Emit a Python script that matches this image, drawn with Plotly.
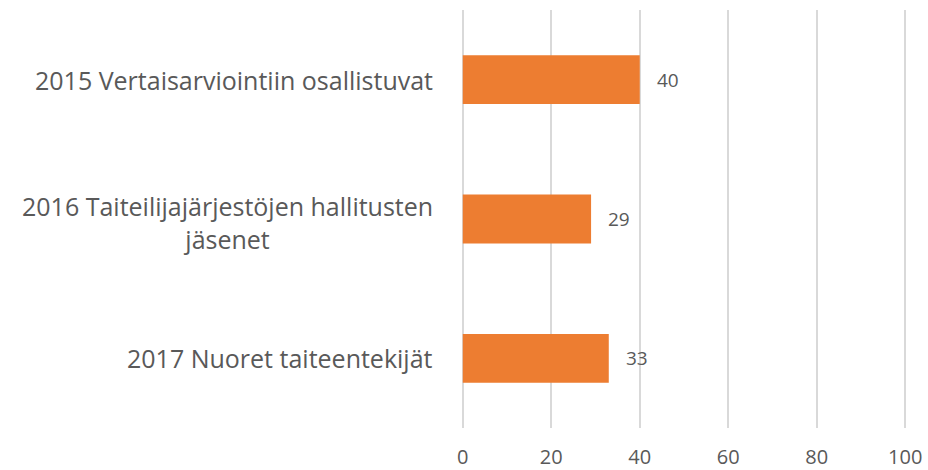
import plotly.graph_objects as go

categories = [
    "2015 Vertaisarviointiin osallistuvat",
    "2016 Taiteilijajärjestöjen hallitusten<br>jäsenet",
    "2017 Nuoret taiteentekijät",
]
values = [40, 29, 33]
x_ticks = [0, 20, 40, 60, 80, 100]

bar_color = "#ED7D31"
text_color = "#595959"
font_family = "Open Sans, Liberation Sans, sans-serif"

fig = go.Figure(
    go.Bar(
        x=values,
        y=categories,
        orientation="h",
        marker=dict(color=bar_color, line=dict(width=0)),
        hoverinfo="skip",
    )
)

# category labels: right-aligned block left of the axis, wrapped lines centred
for cat in categories:
    wrapped = "<br>" in cat
    fig.add_annotation(
        x=0, xref="paper", y=cat, yref="y",
        text=cat, showarrow=False,
        xanchor="right", yanchor="middle", align="center",
        xshift=-26, yshift=-3 if wrapped else 0,
        font=dict(family=font_family, size=25, color=text_color),
    )

# value labels just beyond each bar end
for cat, v in zip(categories, values):
    fig.add_annotation(
        x=v, y=cat, text=str(v), showarrow=False,
        xanchor="left", yanchor="middle", xshift=15,
        font=dict(family=font_family, size=19, color=text_color),
    )

fig.update_layout(
    width=928, height=470,
    margin=dict(l=461, r=21, t=10, b=42),
    paper_bgcolor="white", plot_bgcolor="white",
    bargap=0.65,
    showlegend=False,
    xaxis=dict(
        range=[-0.4, 100.4], tickvals=x_ticks,
        showgrid=True, gridcolor="#D9D9D9", gridwidth=1.5,
        zeroline=False, showline=False, automargin=False,
        ticks="outside", ticklen=11, tickcolor="rgba(0,0,0,0)",
        tickfont=dict(family=font_family, size=20, color=text_color),
        fixedrange=True,
    ),
    yaxis=dict(
        autorange="reversed", automargin=False,
        showticklabels=False, showgrid=False, zeroline=False, showline=False,
        fixedrange=True,
    ),
)

fig.write_html("out.html")
